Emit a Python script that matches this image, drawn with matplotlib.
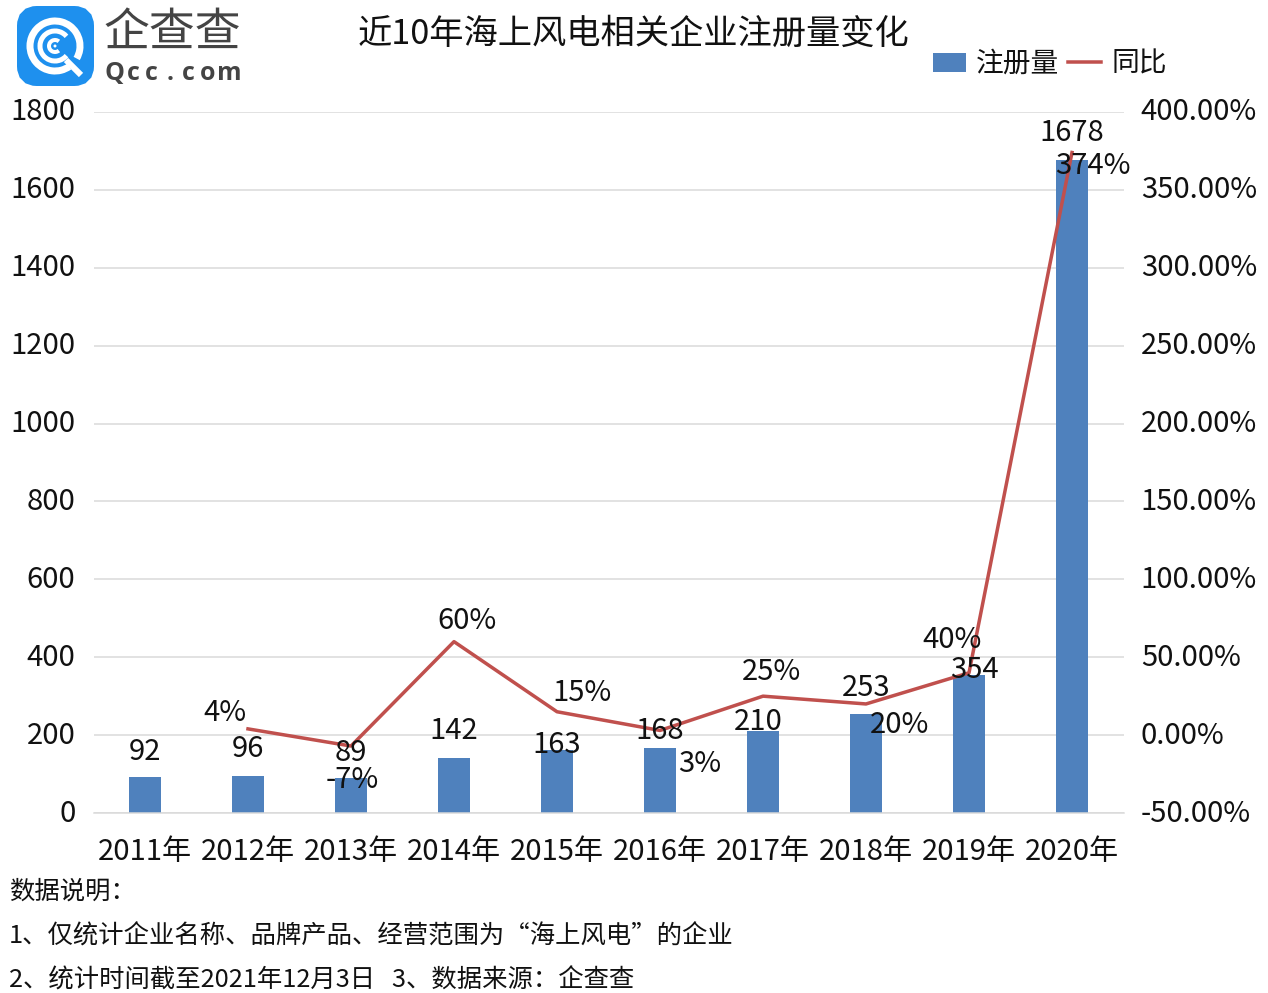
import matplotlib
matplotlib.use("Agg")
import matplotlib.pyplot as plt
from matplotlib.lines import Line2D
from matplotlib.patches import Arc, Circle, FancyBboxPatch, Patch
from matplotlib.transforms import ScaledTranslation

plt.rcParams['font.family'] = ['Noto Sans CJK SC', 'DejaVu Sans']

W, H = 1268, 993

years = ["2011年", "2012年", "2013年", "2014年", "2015年", "2016年", "2017年", "2018年", "2019年", "2020年"]
counts = [92, 96, 89, 142, 163, 168, 210, 253, 354, 1678]
# no yoy value for the first year
yoy_years = years[1:]
yoy = [4, -7, 60, 15, 3, 25, 20, 40, 374]
yoy_labels = ["4%", "-7%", "60%", "15%", "3%", "25%", "20%", "40%", "374%"]

left_ticks = [0, 200, 400, 600, 800, 1000, 1200, 1400, 1600, 1800]
right_ticks = [-50, 0, 50, 100, 150, 200, 250, 300, 350, 400]
right_tick_labels = ["-50.00%", "0.00%", "50.00%", "100.00%", "150.00%", "200.00%", "250.00%", "300.00%", "350.00%", "400.00%"]

notes = ["数据说明:",
         "1、仅统计企业名称、品牌产品、经营范围为“海上风电”的企业",
         "2、统计时间截至2021年12月3日   3、数据来源:企查查"]

# label offsets in pixels, the chart labels were placed by hand
count_offsets = [(0, 25), (0, 27), (0, 25), (0, 27), (0, 5), (0, 17), (-5, 9), (0, 26), (5, 5), (0, 27)]
yoy_offsets = [(-23, 16), (1, -34), (13, 21), (25, 19), (40, -34), (8, 24), (34, -21), (-17, 33), (21, -13)]

BLUE = "#4F81BD"
RED = "#C0504D"
GRID = "#D9D9D9"
TEXT = "#111111"
LOGO_TEXT = "#444444"
PX = 0.72  # points per pixel at dpi 100

logo_letters = ["Q", "c", "c", ".", "c", "o", "m"]
logo_letter_x = [115, 133, 151, 170, 188, 208, 229]


def px_axes(fig, x0, y0, x1, y1):
    # axes rectangle given in image pixels, y counted from the top
    return fig.add_axes([x0 / W, 1 - y1 / H, (x1 - x0) / W, (y1 - y0) / H])


def draw_logo(fig):
    ax = fig.add_axes([0, 0, 1, 1], zorder=5)
    ax.set_xlim(0, W)
    ax.set_ylim(H, 0)
    ax.axis("off")
    ax.patch.set_alpha(0)
    ax.add_patch(FancyBboxPatch((27, 16), 57, 60, boxstyle="round,pad=0,rounding_size=10",
                                mutation_aspect=1, fc="#1E90EE", ec="#1E90EE", lw=20 * PX))
    white = dict(ec="white", fc="none", capstyle="butt")
    ax.add_patch(Arc((55, 46), 50, 50, theta1=55, theta2=30, lw=7 * PX, **white))
    ax.add_patch(Arc((55, 46), 30, 30, theta1=40, theta2=320, lw=5 * PX, **white))
    ax.add_patch(Arc((55, 46), 12, 12, theta1=50, theta2=310, lw=4 * PX, **white))
    ax.add_patch(Circle((55, 46), 1.5, fc="white", ec="none"))
    ax.plot([66, 81], [60, 75], color="white", lw=6 * PX, solid_capstyle="butt")
    ax.text(172, 33, "企查查", fontsize=33, color=LOGO_TEXT, ha="center", va="center", fontweight="light")
    for ch, x in zip(logo_letters, logo_letter_x):
        ax.text(x, 74, ch, fontsize=18, color=LOGO_TEXT, ha="center", va="center",
                fontweight="bold", family=["Open Sans", "DejaVu Sans"])


def main():
    fig = plt.figure(figsize=(W / 100, H / 100), dpi=100, facecolor="white")

    ax = px_axes(fig, 93.5, 112, 1123.5, 813)
    ax2 = ax.twinx()

    bars = ax.bar(years, counts, width=0.32, color=BLUE, zorder=2)
    ax2.plot(yoy_years, yoy, color=RED, lw=3.5 * PX, zorder=3, solid_joinstyle="round")

    ax.set_xlim(-0.5, 9.5)
    ax.set_ylim(0, 1800)
    ax2.set_ylim(-50, 400)
    ax.set_yticks(left_ticks)
    ax2.set_yticks(right_ticks)
    ax2.set_yticklabels(right_tick_labels)

    ax.grid(axis="y", color=GRID, lw=1.5 * PX, zorder=0)
    ax.set_axisbelow(True)
    for a in (ax, ax2):
        for s in a.spines.values():
            s.set_visible(False)
    ax.spines["bottom"].set_visible(True)
    ax.spines["bottom"].set_color(GRID)
    ax.spines["bottom"].set_linewidth(1.5 * PX)

    ax.tick_params(axis="y", length=0, pad=13, labelsize=21, labelcolor=TEXT)
    ax.tick_params(axis="x", length=0, pad=17.5, labelsize=21, labelcolor=TEXT)
    ax2.tick_params(axis="y", length=0, pad=12.5, labelsize=21, labelcolor=TEXT)

    # y tick labels sit a bit above their gridlines
    nudge = ScaledTranslation(0, 3 / 100, fig.dpi_scale_trans)
    for lab in ax.get_yticklabels() + ax2.get_yticklabels():
        lab.set_transform(lab.get_transform() + nudge)

    # labels sit on the upper axes so they stay above the line
    for i, (b, v) in enumerate(zip(bars, counts)):
        dx, dy = count_offsets[i]
        ax2.annotate(str(v), xy=(i, v / 1800 * 450 - 50), xytext=(dx * PX, dy * PX),
                     textcoords="offset points", ha="center", va="center",
                     fontsize=21, color=TEXT, zorder=6)
    for i, (v, s) in enumerate(zip(yoy, yoy_labels)):
        dx, dy = yoy_offsets[i]
        ax2.annotate(s, xy=(i + 1, v), xytext=(dx * PX, dy * PX),
                     textcoords="offset points", ha="center", va="center",
                     fontsize=21, color=TEXT, zorder=6)

    handles = [Patch(fc=BLUE, ec="none"), Line2D([0], [0], color=RED, lw=3.5 * PX)]
    fig.legend(handles, ["注册量", "同比"], ncol=2, frameon=False, fontsize=20,
               loc="center left", bbox_to_anchor=(933 / W, 1 - 64 / H), borderpad=0, borderaxespad=0,
               handlelength=1.2, handleheight=0.7, handletextpad=0.36, columnspacing=0.3,
               labelcolor=TEXT)

    fig.text(634 / W, 1 - 34 / H, "近10年海上风电相关企业注册量变化", fontsize=24.7,
             ha="center", va="center", color=TEXT)

    for s, y in zip(notes, [892, 937, 981]):
        fig.text(9 / W, 1 - y / H, s.replace(":", "\uff1a"), fontsize=18.25, ha="left", va="center", color=TEXT)

    draw_logo(fig)
    fig.savefig("out.png", dpi=100)


if __name__ == "__main__":
    main()
